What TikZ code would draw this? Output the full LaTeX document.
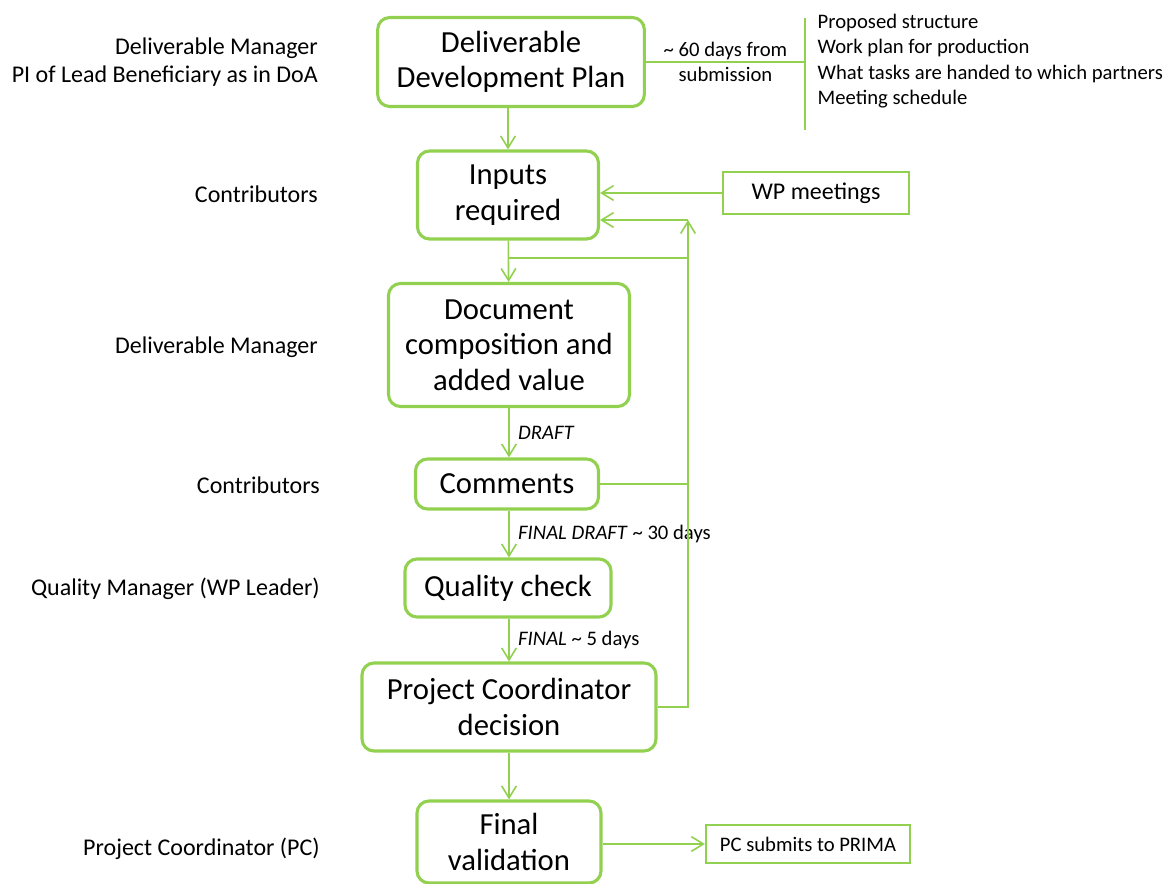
\documentclass[tikz,border=0pt]{standalone}
\usepackage{fontspec}
\setmainfont{Carlito}
\usepackage{xcolor}
\usetikzlibrary{arrows.meta,positioning}
\definecolor{leafgreen}{RGB}{146,208,80}

\begin{document}
\begin{tikzpicture}[x=0.75pt, y=-0.75pt,
  stage/.style={draw=leafgreen, line width=2.3pt, rounded corners=9pt, align=center,
    inner sep=2pt, font=\fontsize{23}{26.5}\selectfont},
  side/.style={draw=leafgreen, line width=1.6pt, align=center, inner sep=2pt},
  role/.style={anchor=east, align=right, inner sep=0pt, font=\fontsize{18}{21}\selectfont},
  note/.style={font=\fontsize{15.5}{19}\selectfont},
  link/.style={draw=leafgreen, line width=1.2pt},
  flow/.style={link, -{Straight Barb[length=9pt,width=11pt]}}]
  \useasboundingbox (0,0) rectangle (1164,884);

  % main column of stages
  \node[stage, minimum width=200pt, minimum height=66.75pt] (plan) at (511,62)
       {Deliverable\\Development Plan};
  \node[stage, minimum width=135.75pt, minimum height=66pt] (inputs) at (508,195)
       {Inputs\\required};
  \node[stage, minimum width=180.75pt, minimum height=92.25pt] (compose) at (509,345)
       {Document\\composition and\\added value};
  \node[stage, minimum width=137.25pt, minimum height=37.5pt] (comments) at (507,484)
       {Comments};
  \node[stage, minimum width=154.5pt, minimum height=43.5pt] (quality) at (508,588)
       {Quality check};
  \node[stage, minimum width=220.5pt, minimum height=66pt] (decision) at (509,707)
       {Project Coordinator\\decision};
  \node[stage, minimum width=138pt, minimum height=61.5pt] (validate) at (509,842)
       {Final\\validation};

  % side boxes
  \node[side, minimum width=139.5pt, minimum height=31.5pt, font=\fontsize{18}{21}\selectfont]
       (meetings) at (816,193) {WP meetings};
  \node[side, minimum width=153pt, minimum height=28.5pt, note] (submit) at (808,844)
       {PC submits to PRIMA};

  % who is in charge, left column
  \node[role] (r1) at (318,62) {Deliverable Manager\\PI of Lead Beneficiary as in DoA};
  \node[role] (r2) at (318,194) {Contributors};
  \node[role] (r3) at (318,347) {Deliverable Manager};
  \node[role] (r4) at (320,485) {Contributors};
  \node[role] (r5) at (320,589) {Quality Manager (WP Leader)};
  \node[role] (r6) at (320,849) {Project Coordinator (PC)};

  % plan contents, behind the bracket
  \coordinate (brktop) at (805,18);
  \coordinate (brkbot) at (805,130);
  \draw[link] (brktop) -- (brkbot);
  \draw[link] (plan.east) -- node[note, align=center] {\textasciitilde{} 60 days from\\submission}
       (plan.east -| brktop);
  \foreach \t [count=\i] in {Proposed structure, Work plan for production,
                             What tasks are handed to which partners, Meeting schedule}
    \node[note, anchor=west] (item\i) at (813,{23+25.3*(\i-1)}) {\t};

  % downward flow
  \draw[flow] (plan.south -| inputs) -- (inputs);
  \draw[flow] (inputs) -- (compose);
  \draw[flow] (compose) -- node[note, right, xshift=3pt] {\textit{DRAFT}} (comments.north -| compose);
  \draw[flow] (comments.south -| compose) -- node[note, right, xshift=3pt]
       {\textit{FINAL DRAFT} \textasciitilde{} 30 days} (quality.north -| compose);
  \draw[flow] (quality.south -| compose) -- node[note, right, xshift=3pt]
       {\textit{FINAL} \textasciitilde{} 5 days} (decision);
  \draw[flow] (decision) -- (validate);
  \draw[flow] (validate.east |- submit) -- (submit);
  \draw[flow] (meetings) -- (inputs.east |- meetings);

  % feedback loop back to the inputs
  \coordinate (fbtop) at (688,220);
  \coordinate (split) at (508,258);
  \draw[flow] (decision.east) -| (fbtop);
  \draw[flow] (fbtop) -- (inputs.east |- fbtop);
  \draw[link] (comments.east) -- (comments.east -| fbtop);
  \draw[link] (split) -- (split -| fbtop);
\end{tikzpicture}
\end{document}
